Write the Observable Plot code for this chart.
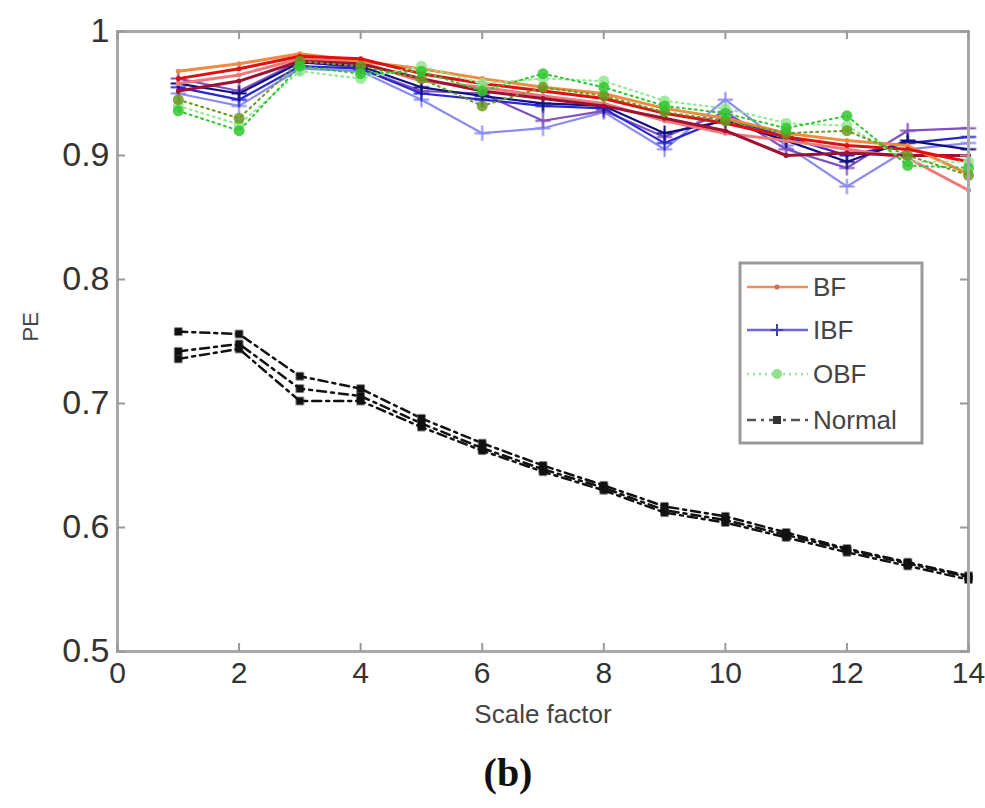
<!DOCTYPE html>
<html>
<head>
<meta charset="utf-8">
<script src="https://cdn.jsdelivr.net/npm/d3@7"></script>
<script src="https://cdn.jsdelivr.net/npm/@observablehq/plot@0.6"></script>
<style>
  html, body { margin: 0; padding: 0; background: #fff; }
  #wrap { position: relative; width: 985px; height: 808px; }
  #cap { position: absolute; left: 508px; top: 772px; transform: translate(-50%, -50%);
         font-family: "Liberation Serif", serif; font-weight: bold; font-size: 40px; color: #111; }
</style>
</head>
<body>
<div id="wrap"><div id="chart"></div><div id="cap">(b)</div></div>
<script>
// ---- data ----
const scaleFactor = [1,2,3,4,5,6,7,8,9,10,11,12,13,14];
const xTicks = [0,2,4,6,8,10,12,14];
const yTicks = [0.5,0.6,0.7,0.8,0.9,1];
const legendLabels = ["BF","IBF","OBF","Normal"];

const bfRun1 = [0.962,0.970,0.980,0.978,0.966,0.958,0.952,0.946,0.934,0.926,0.915,0.908,0.905,0.895];
const bfRun2 = [0.968,0.974,0.982,0.976,0.970,0.962,0.955,0.950,0.938,0.930,0.918,0.912,0.908,0.885];
const bfRun3 = [0.952,0.960,0.976,0.974,0.962,0.952,0.946,0.940,0.930,0.920,0.900,0.902,0.900,0.900];
const bfRun4 = [0.958,0.965,0.978,0.975,0.960,0.955,0.948,0.942,0.928,0.918,0.912,0.905,0.898,0.872];

const ibfRun1 = [0.955,0.945,0.972,0.970,0.950,0.945,0.940,0.938,0.910,0.930,0.915,0.900,0.910,0.915];
const ibfRun2 = [0.950,0.940,0.970,0.968,0.945,0.918,0.922,0.935,0.905,0.945,0.908,0.875,0.905,0.910];
const ibfRun3 = [0.958,0.950,0.975,0.972,0.955,0.948,0.942,0.940,0.918,0.928,0.912,0.895,0.912,0.905];
const ibfRun4 = [0.962,0.952,0.976,0.970,0.952,0.950,0.928,0.936,0.915,0.935,0.905,0.890,0.920,0.922];

const obfRun1 = [0.936,0.920,0.972,0.966,0.968,0.952,0.966,0.955,0.940,0.934,0.922,0.932,0.892,0.890];
const obfRun2 = [0.945,0.930,0.976,0.972,0.962,0.940,0.955,0.948,0.935,0.928,0.918,0.920,0.900,0.884];
const obfRun3 = [0.940,0.925,0.968,0.962,0.972,0.958,0.962,0.960,0.944,0.938,0.926,0.924,0.895,0.895];

const normalRun1 = [0.742,0.748,0.712,0.706,0.684,0.664,0.647,0.632,0.614,0.606,0.594,0.582,0.571,0.560];
const normalRun2 = [0.758,0.756,0.722,0.712,0.688,0.668,0.650,0.634,0.617,0.609,0.596,0.583,0.572,0.561];
const normalRun3 = [0.736,0.744,0.702,0.702,0.681,0.662,0.645,0.630,0.612,0.604,0.592,0.580,0.569,0.558];

// ---- build tables ----
const rows = arr => scaleFactor.map((x, i) => ({x, y: arr[i]}));

const bfRuns = [[bfRun4,"#f07878"],[bfRun3,"#a01030"],[bfRun2,"#f08a40"],[bfRun1,"#e01010"]];
const ibfRuns = [[ibfRun2,"#8c8cf0"],[ibfRun4,"#8050c0"],[ibfRun1,"#2828d0"],[ibfRun3,"#101080"]];
const obfRuns = [[obfRun3,"#90e890"],[obfRun2,"#6a9a20"],[obfRun1,"#30c830"]];
const normalRuns = [normalRun1, normalRun2, normalRun3];

const marks = [];
// Normal: black dash-dot with square markers
for (const r of normalRuns) {
  marks.push(Plot.line(rows(r), {x: "x", y: "y", stroke: "#111", strokeWidth: 2.5, strokeDasharray: "9,5,3,5"}));
  marks.push(Plot.dot(rows(r), {x: "x", y: "y", symbol: "square", r: 4.5, fill: "#111"}));
}
// IBF: blue solid with plus markers
for (const [r, c] of ibfRuns) {
  marks.push(Plot.line(rows(r), {x: "x", y: "y", stroke: c, strokeWidth: 2.2}));
  marks.push(Plot.dot(rows(r), {x: "x", y: "y", symbol: "plus", r: 5, stroke: c, strokeWidth: 2}));
}
// BF: red solid
for (const [r, c] of bfRuns) {
  marks.push(Plot.line(rows(r), {x: "x", y: "y", stroke: c, strokeWidth: 3}));
  marks.push(Plot.dot(rows(r), {x: "x", y: "y", r: 2.5, fill: c}));
}
// OBF: green dotted with circle markers
for (const [r, c] of obfRuns) {
  marks.push(Plot.line(rows(r), {x: "x", y: "y", stroke: c, strokeWidth: 2, strokeDasharray: "2,4"}));
  marks.push(Plot.dot(rows(r), {x: "x", y: "y", r: 5.5, fill: c, fillOpacity: 0.85}));
}

const frameH = 620, tickLen = 8, frameW = 851;
const chart = Plot.plot({
  width: 985,
  height: 740,
  marginLeft: 117,
  marginRight: 17,
  marginTop: 31,
  marginBottom: 89,
  style: {fontFamily: "Liberation Sans, Arial, sans-serif", color: "#333", background: "#fff"},
  x: {domain: [0, 14], ticks: xTicks},
  y: {domain: [0.5, 1], ticks: yTicks},
  marks: [
    ...marks,
    Plot.frame({stroke: "#a8a8a8", strokeWidth: 3}),
    // inward ticks (MATLAB style) on all four sides
    Plot.tickX(xTicks, {x: d => d, stroke: "#999", strokeWidth: 2, insetTop: frameH - tickLen}),
    Plot.tickX(xTicks, {x: d => d, stroke: "#999", strokeWidth: 2, insetBottom: frameH - tickLen}),
    Plot.tickY(yTicks, {y: d => d, stroke: "#999", strokeWidth: 2, insetRight: frameW - tickLen}),
    Plot.tickY(yTicks, {y: d => d, stroke: "#999", strokeWidth: 2, insetLeft: frameW - tickLen}),
    Plot.axisX({ticks: xTicks, tickSize: 0, tickPadding: 10, fontSize: 30, label: null, tickFormat: d => String(d), fill: "#333"}),
    Plot.axisY({ticks: yTicks, tickSize: 0, tickPadding: 8, fontSize: 34, label: null, tickFormat: d => d === 1 ? "1" : d.toFixed(1), fill: "#333"}),
    Plot.text(["Scale factor"], {frameAnchor: "bottom", dy: 63, fontSize: 26, fill: "#444", lineAnchor: "middle"}),
    Plot.text(["PE"], {frameAnchor: "left", dx: -87, rotate: -90, fontSize: 22, fill: "#444", lineAnchor: "middle"})
  ]
});

// soften data marks a little, like the reference
d3.select(chart).selectAll('g[aria-label="line"], g[aria-label="dot"]').style("filter", "blur(0.7px)");

// ---- legend box (MATLAB style) ----
const svg = d3.select(chart);
const lg = svg.append("g").attr("font-family", "Liberation Sans, Arial, sans-serif").attr("text-anchor", "start");
const lx = 740, ly = 263, lw = 182, lh = 180;
lg.append("rect").attr("x", lx).attr("y", ly).attr("width", lw).attr("height", lh)
  .attr("fill", "#fff").attr("stroke", "#999").attr("stroke-width", 3);
const legendStyle = [
  {stroke: "#f08a60", dash: null, sym: "dot", color: "#c87050"},
  {stroke: "#6a6ad8", dash: null, sym: "plus", color: "#4040b0"},
  {stroke: "#a0e0a0", dash: "2,4", sym: "circle", color: "#90e090"},
  {stroke: "#555", dash: "9,5,3,5", sym: "square", color: "#333"}
];
const rowY = [287, 330, 374, 420];
legendLabels.forEach((lab, i) => {
  const s = legendStyle[i], y = rowY[i];
  const ln = lg.append("line").attr("x1", 747).attr("x2", 808).attr("y1", y).attr("y2", y)
    .attr("stroke", s.stroke).attr("stroke-width", 2.5);
  if (s.dash) ln.attr("stroke-dasharray", s.dash);
  if (s.sym === "dot") lg.append("circle").attr("cx", 777).attr("cy", y).attr("r", 2.5).attr("fill", s.color);
  if (s.sym === "plus") lg.append("path").attr("d", `M777,${y-6}V${y+6}M771,${y}H783`).attr("stroke", s.color).attr("stroke-width", 2);
  if (s.sym === "circle") lg.append("circle").attr("cx", 777).attr("cy", y).attr("r", 5).attr("fill", s.color);
  if (s.sym === "square") lg.append("rect").attr("x", 773).attr("y", y - 4).attr("width", 8).attr("height", 8).attr("fill", s.color);
  lg.append("text").attr("x", 813).attr("y", y).attr("dy", "0.36em").attr("font-size", 26)
    .attr("text-anchor", "start").attr("fill", "#444").text(lab);
});

document.getElementById("chart").appendChild(chart);
</script>
</body>
</html>
